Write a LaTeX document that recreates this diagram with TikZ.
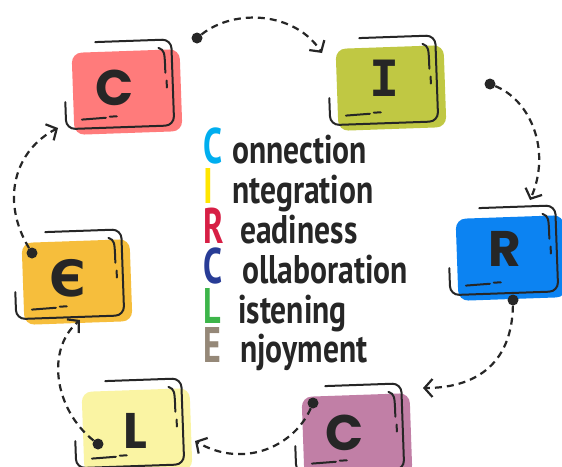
\documentclass[tikz,border=0pt]{standalone}
\usepackage{fontspec}
\usetikzlibrary{arrows.meta}
\setmainfont{PT Sans}
\newfontfamily\boxfont{Poppins}
\newfontfamily\slabfont{DejaVu Sans Mono}
\newfontfamily\cyrfont{DejaVu Sans}
\definecolor{inkc}{HTML}{262626}
\definecolor{bred}{HTML}{FF7B7B}
\definecolor{bolive}{HTML}{C0C843}
\definecolor{bblue}{HTML}{0C83F2}
\definecolor{borange}{HTML}{F6BE3C}
\definecolor{bpale}{HTML}{FAF4A3}
\definecolor{bmauve}{HTML}{C17FA6}
\definecolor{kC}{HTML}{00AEEF}
\definecolor{kI}{HTML}{FFE600}
\definecolor{kR}{HTML}{D71F45}
\definecolor{kC2}{HTML}{283C96}
\definecolor{kL}{HTML}{3DB54A}
\definecolor{kE}{HTML}{958878}
\tikzset{
  ink/.style={draw=inkc, line width=2pt, line cap=round},
  flow/.style={draw=inkc, line width=2.2pt, dash pattern=on 7pt off 5pt,
    -{Straight Barb[length=8pt,width=18pt]}},
  dot/.style={circle, fill=inkc, inner sep=0pt, minimum size=11pt},
  boxletter/.style={inner sep=0pt, text=inkc, text height=36pt, text depth=0pt,
    font=\boxfont\bfseries\fontsize{50}{50}\selectfont},
  big/.style={anchor=base west, inner sep=0pt, text height=35pt, text depth=0pt,
    font=\bfseries\fontsize{50}{50}\selectfont},
  word/.style={anchor=base west, inner sep=0pt, text=inkc, text height=27pt, text depth=8pt,
    font=\bfseries\fontsize{40}{40}\selectfont}
}
\newcommand\lbox[7]{%
\begin{scope}[shift={(#2,#3)},rotate=2]
  \fill[#4, rounded corners=10pt] (-54,-41) rectangle (54,41);
  \draw[ink, rounded corners=9pt] (-62,8) -- (-62,35) -- (46,35) -- (46,-51) -- (-30,-51);
  \draw[ink] (33,-43) .. controls (39,-40) .. (39,-18);
  \draw[ink] (40,-10) -- (40,-3);
  \draw[ink] (-46,26) -- (-22,25);
  \draw[ink] (-18,24) -- (-11,24);
  \node[boxletter] (#1) at (#6,#7) {#5};
\end{scope}}
\begin{document}
\begin{tikzpicture}[x=1pt,y=-1pt]
\useasboundingbox (0,0) rectangle (562,466);
\clip (0,0) rectangle (562,466);
\fill[white] (0,0) rectangle (562,466);
% boxes
\lbox{b1}{127}{92}{bred}{C}{-12}{-5}
\lbox{b2}{391}{88}{bolive}{\slabfont I}{-6}{-10}
\lbox{b3}{511}{258}{bblue}{R}{-6}{-10}
\lbox{b4}{77}{282}{borange}{\cyrfont Є}{-9}{-4}
\lbox{b5}{137}{431}{bpale}{L}{-2}{-1}
\lbox{b6}{357}{436}{bmauve}{C}{-12}{-4}
% dots
\node[dot] (d1) at (197,38) {};
\node[dot] (d2) at (490,84) {};
\node[dot] (d3) at (513,300) {};
\node[dot] (d4) at (313,403) {};
\node[dot] (d5) at (98,444) {};
\node[dot] (d6) at (32,253) {};
\coordinate (t1) at (322,53);
\coordinate (t2) at (530,200);
\coordinate (t3) at (423,388);
\coordinate (t4) at (195,441);
\coordinate (t5) at (80,320);
\coordinate (t6) at (58,128);
% connectors
\draw[flow] (d1) .. controls (235,8) and (295,12) .. (t1);
\draw[flow] (d2) .. controls (530,100) and (552,150) .. (t2);
\draw[flow] (d3) .. controls (512,360) and (480,388) .. (t3);
\draw[flow] (d4) .. controls (295,445) and (245,470) .. (t4);
\draw[flow] (d5) .. controls (55,410) and (45,350) .. (t5);
\draw[flow] (d6) .. controls (0,200) and (15,150) .. (t6);
% acrostic
\node[big, text=kC]  (l1) at (203,163) {\scalebox{0.68}[1]{C}};
\node[big, text=kI]  (l2) at (203,203) {\scalebox{0.68}[1]{I}};
\node[big, text=kR]  (l3) at (203,243) {\scalebox{0.68}[1]{R}};
\node[big, text=kC2] (l4) at (203,283) {\scalebox{0.68}[1]{C}};
\node[big, text=kL]  (l5) at (203,323) {\scalebox{0.68}[1]{L}};
\node[big, text=kE]  (l6) at (203,362) {\scalebox{0.68}[1]{E}};
\node[word] (w1) at (232,163) {\scalebox{0.79}[1]{onnection}};
\node[word] (w2) at (232,203) {\scalebox{0.79}[1]{ntegration}};
\node[word] (w3) at (240,243) {\scalebox{0.79}[1]{eadiness}};
\node[word] (w4) at (242,283) {\scalebox{0.79}[1]{ollaboration}};
\node[word] (w5) at (238,323) {\scalebox{0.79}[1]{istening}};
\node[word] (w6) at (240,362) {\scalebox{0.79}[1]{njoyment}};
\end{tikzpicture}
\end{document}
